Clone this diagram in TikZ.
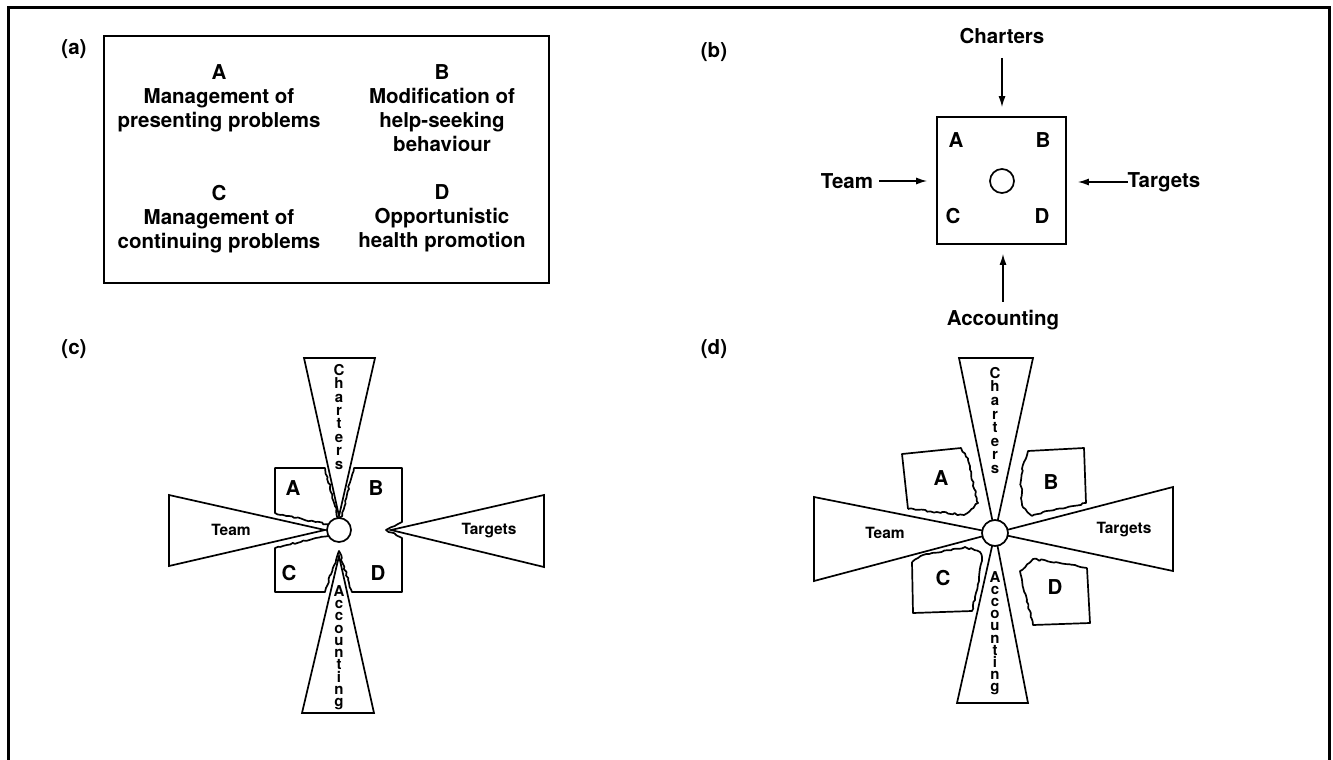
\documentclass[tikz,border=0pt]{standalone}
\usepackage{fontspec}
\setmainfont{TeX Gyre Heros}
\usetikzlibrary{arrows.meta,positioning,decorations.pathmorphing}

\tikzset{
  txt/.style={font=\fontsize{20.5}{24}\selectfont\bfseries, inner sep=0pt, align=center, anchor=north},
  tag/.style={font=\fontsize{20.5}{24}\selectfont\bfseries, inner sep=0pt},
  wtxt/.style={font=\fontsize{15.5}{16}\selectfont\bfseries, inner sep=0pt},
  stacked/.style={font=\fontsize{15}{#1}\selectfont\bfseries, inner sep=0pt, align=center, anchor=north},
  edge/.style={line width=1.7pt, line join=round},
  wedge/.style={draw, line width=1.7pt, fill=white},
  torn/.style={decoration={random steps, segment length=3pt, amplitude=0.9pt}},
  hub/.style={circle, draw, line width=1.7pt, fill=white, inner sep=0pt, minimum size=#1},
  arr/.style={line width=1.4pt, -{Latex[length=11pt,width=7pt]}}
}

\begin{document}
\begin{tikzpicture}[x=1pt, y=-1pt]
\pgfmathsetseed{17}
\useasboundingbox (0,0) rectangle (1333,760);

%\draw [help lines, step=50pt](0,0) grid (1333,760);
\draw [line width=3pt] (8,770) -- (8,8) -- (1329,8) -- (1329,770);

% (a)
\node[tag] (lab-a) at (74,49) {(a)};
\node[draw, line width=1.7pt, minimum width=445pt, minimum height=247pt, inner sep=0pt] (boxa) at (326.5,159.5) {};
\node[txt] (txt-A) at (219,64.8) {A\\Management of\\presenting problems};
\node[txt] (txt-B) at (442,64.8) {B\\Modification of\\help-seeking\\behaviour};
\node[txt] (txt-C) at (219,184.8) {C\\Management of\\continuing problems};
\node[txt] (txt-D) at (442,184.8) {D\\Opportunistic\\health promotion};

% (b)
\node[tag] (lab-b) at (714,52) {(b)};
\node[draw, line width=1.7pt, minimum width=129pt, minimum height=127pt, inner sep=0pt] (boxb) at (1001.5,180.5) {};
\node[hub=24pt] (hub-b) at (1002,181) {};
\node[tag] (b-A) at (956,140) {A};
\node[tag] (b-B) at (1043,140) {B};
\node[tag] (b-C) at (953,216) {C};
\node[tag] (b-D) at (1042,216) {D};
\node[tag] (charters) at (1002,36) {Charters};
\node[tag] (team) at (847,181) {Team};
\node[tag] (targets) at (1164,182) {Targets};
\node[tag] (accounting) at (1003,320) {Accounting};
\draw[arr, shorten <=14pt, shorten >=9pt] (charters) -- (charters |- boxb.north);
\draw[arr, shorten <=6pt, shorten >=9pt] (team) -- (team -| boxb.west);
\draw[arr, shorten >=11pt] (targets) -- (targets -| boxb.east);
\draw[arr, shorten <=8pt, shorten >=9pt] (accounting) -- (accounting |- boxb.south);

% (c)
\node[tag] (lab-c) at (74,349) {(c)};
\draw[edge] (275,468) -- (325,468)
  decorate[torn]{ -- (339,521) } -- (340,521)
  decorate[torn]{ -- (354,468) } -- (402,468) -- (402,522)
  decorate[torn]{ -- (386,530) -- (402,538) } -- (402,592) -- (352,592)
  decorate[torn]{ -- (339,551) -- (325,592) } -- (275,592) -- (275,548)
  decorate[torn]{ -- (330,535) } -- (330,525)
  decorate[torn]{ -- (275,513) } -- cycle;
\draw[wedge] (304,358) -- (375,358) -- (339,516) -- cycle;
\draw[wedge] (169,495) -- (169,566) -- (325,530) -- cycle;
\draw[wedge] (544,495) -- (544,567) -- (391,530) -- cycle;
\draw[wedge] (302,713) -- (374,713) -- (339,556) -- cycle;
\node[hub=24pt] (hub-c) at (339,530) {};
\node[tag] (c-A) at (293,488) {A};
\node[tag] (c-B) at (376,488) {B};
\node[tag] (c-C) at (289,573) {C};
\node[tag] (c-D) at (378,573) {D};
\node[wtxt] (c-team) at (231,530) {Team};
\node[wtxt] (c-targets) at (489,531) {Targets};
\node[stacked=13.4pt] (c-charters) at (339,364) {C\\h\\a\\r\\t\\e\\r\\s};
\node[stacked=12.3pt] (c-accounting) at (339,585) {A\\c\\c\\o\\u\\n\\t\\i\\n\\g};

% (d)
\node[tag] (lab-d) at (714,349) {(d)};
\draw[wedge] (959,358) -- (1033,358) -- (995,533) -- cycle;
\draw[wedge] (957,703) -- (1028,703) -- (995,533) -- cycle;
\draw[wedge] (814,497) -- (814,581) -- (995,533) -- cycle;
\draw[wedge] (1173,487) -- (1173,571) -- (995,533) -- cycle;
\draw[edge] (908,509) -- (902,454) -- (961,448)
  decorate[torn]{ -- (968,460) -- (972,480) -- (978,503) -- (964,515) -- (937,512) -- (908,509) };
\draw[edge] (1032,516) decorate[torn]{ -- (1022,505) -- (1021,480) -- (1024,462) -- (1028,451) }
  -- (1084,448) -- (1086,503) decorate[torn]{ -- (1043,512) -- (1032,516) };
\draw[edge] (912,562) -- (913,613) -- (972,611)
  decorate[torn]{ -- (977,590) -- (982,557) -- (980,552) -- (965,547) -- (923,555) -- (912,562) };
\draw[edge] (1087,568) -- (1090,623) -- (1033,625)
  decorate[torn]{ -- (1027,600) -- (1022,580) -- (1020,571) -- (1033,559) -- (1075,565) -- (1087,568) };
\node[hub=26pt] (hub-d) at (995,533) {};
\node[tag] (d-A) at (941,478) {A};
\node[tag] (d-B) at (1051,482) {B};
\node[tag] (d-C) at (943,578) {C};
\node[tag] (d-D) at (1055,587) {D};
\node[wtxt] (d-team) at (885,533) {Team};
\node[wtxt] (d-targets) at (1124,530) {Targets};
\node[stacked=13.6pt] (d-charters) at (995,367) {C\\h\\a\\r\\t\\e\\r\\s};
\node[stacked=12.2pt] (d-accounting) at (995,571) {A\\c\\c\\o\\u\\n\\t\\i\\n\\g};

\end{tikzpicture}
\end{document}
